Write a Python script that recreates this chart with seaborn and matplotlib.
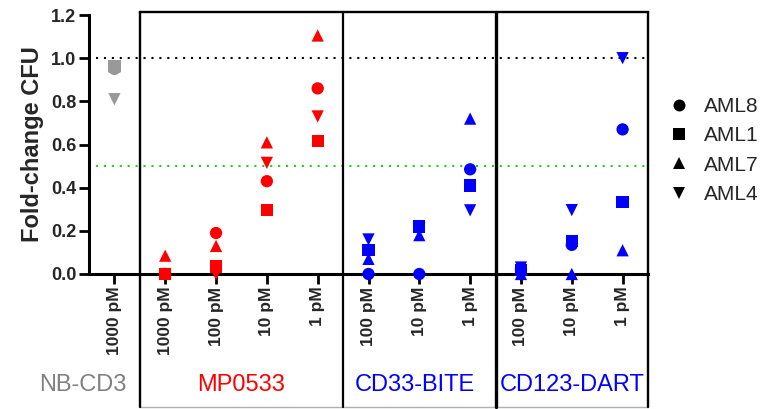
import pandas as pd
import matplotlib
matplotlib.use("Agg")
import matplotlib.pyplot as plt
from matplotlib.lines import Line2D
import seaborn as sns

# conditions along the x axis
groups = ["NB-CD3", "MP0533", "MP0533", "MP0533", "MP0533",
          "CD33-BITE", "CD33-BITE", "CD33-BITE",
          "CD123-DART", "CD123-DART", "CD123-DART"]
doses = ["1000 pM", "1000 pM", "100 pM", "10 pM", "1 pM",
         "100 pM", "10 pM", "1 pM",
         "100 pM", "10 pM", "1 pM"]

# fold-change CFU per AML sample
aml8 = [0.95, 0.00, 0.19, 0.43, 0.86, 0.00, 0.00, 0.485, 0.02, 0.135, 0.67]
aml1 = [0.965, 0.00, 0.035, 0.295, 0.617, 0.11, 0.22, 0.41, 0.02, 0.153, 0.335]
aml7 = [0.96, 0.085, 0.13, 0.61, 1.105, 0.07, 0.18, 0.72, 0.00, 0.00, 0.11]
aml4 = [0.81, 0.00, 0.00, 0.515, 0.73, 0.16, 0.21, 0.295, 0.03, 0.296, 1.00]

samples = ["AML8", "AML1", "AML7", "AML4"]
group_names = ["NB-CD3", "MP0533", "CD33-BITE", "CD123-DART"]
group_colors = {"NB-CD3": "#999999", "MP0533": "#FF0000",
                "CD33-BITE": "#0000FF", "CD123-DART": "#0000FF"}
label_colors = {"NB-CD3": "#808080", "MP0533": "#FF0000",
                "CD33-BITE": "#0000FF", "CD123-DART": "#0000FF"}
markers = {"AML8": "o", "AML1": "s", "AML7": "^", "AML4": "v"}

# long table for seaborn
rows = []
for name, vals in zip(samples, [aml8, aml1, aml7, aml4]):
    for i, v in enumerate(vals):
        rows.append({"pos": i, "group": groups[i], "sample": name, "fc": v})
df = pd.DataFrame(rows)

sns.set_style("ticks")
plt.rcParams["font.family"] = ["Liberation Sans", "DejaVu Sans"]

fig = plt.figure(figsize=(7.65, 4.09), dpi=100)
ax_l, ax_b, ax_w, ax_h = 89 / 765, 1 - 274 / 409, (648 - 89) / 765, (274 - 15) / 409
ax = fig.add_axes([ax_l, ax_b, ax_w, ax_h])

sns.scatterplot(data=df, x="pos", y="fc", hue="group", style="sample",
                palette=group_colors, markers=markers, s=78, linewidth=0,
                legend=False, ax=ax, clip_on=False, zorder=3)

ax.set_xlim(-0.5, 10.5)
ax.set_ylim(0, 1.2)
ax.set_yticks([0, 0.2, 0.4, 0.6, 0.8, 1.0, 1.2])
ax.set_yticklabels([f"{t:.1f}" for t in ax.get_yticks()], fontsize=13, fontweight="bold")
ax.set_xticks(range(len(doses)))
ax.set_xticklabels(doses, rotation=90, fontsize=12.5, fontweight="bold")
ax.set_xlabel("")
ax.set_ylabel("Fold-change CFU", fontsize=17, fontweight="bold", labelpad=5)
ax.tick_params(axis="both", width=2, length=7, pad=2, color="black")

sns.despine(ax=ax)
for side in ["left", "bottom"]:
    ax.spines[side].set_linewidth(2.2)
    ax.spines[side].set_color("black")

# threshold lines
ax.hlines(1.0, -0.36, 10.45, colors="black", linestyles=(0, (1, 2.8)), lw=1.5, zorder=1)
ax.hlines(0.5, -0.36, 10.45, colors="#22CC22", linestyles=(0, (1, 2.8)), lw=1.5, zorder=1)

# group boxes drawn in axes-y coordinates so they run past the axis
bottom_ax = (2 / 409 - ax_b) / ax_h
top_ax = 1.0127
tr = ax.get_xaxis_transform()
for xb, lw in [(0.5, 1.7), (4.5, 1.6), (7.5, 2.4), (10.5, 1.7)]:
    ax.plot([xb, xb], [bottom_ax, top_ax], color="black", lw=lw,
            transform=tr, clip_on=False, zorder=4)
ax.plot([0.5, 10.5], [top_ax, top_ax], color="black", lw=1.7,
        transform=tr, clip_on=False, solid_capstyle="projecting")
ax.plot([0.5, 10.5], [bottom_ax, bottom_ax], color="#B0B0B0", lw=1.0,
        transform=tr, clip_on=False)

# group labels under the tick labels
label_y = (1 - 385 / 409 - ax_b) / ax_h
label_x = {"NB-CD3": -0.63, "MP0533": 2.5, "CD33-BITE": 5.92, "CD123-DART": 9.0}
for g in group_names:
    ax.text(label_x[g], label_y, g, transform=tr, ha="center", va="center",
            fontsize=17, color=label_colors[g])

handles = [Line2D([], [], marker=markers[s], color="black", linestyle="none",
                  markersize=8.6, markeredgewidth=0) for s in samples]
fig.legend(handles, samples, loc="center left", bbox_to_anchor=(669 / 765, 1 - 150.5 / 409),
           frameon=False, fontsize=15, handlelength=1.0, handletextpad=0.7,
           borderpad=0, borderaxespad=0, labelspacing=0.5)

fig.savefig("out.png", dpi=100)
